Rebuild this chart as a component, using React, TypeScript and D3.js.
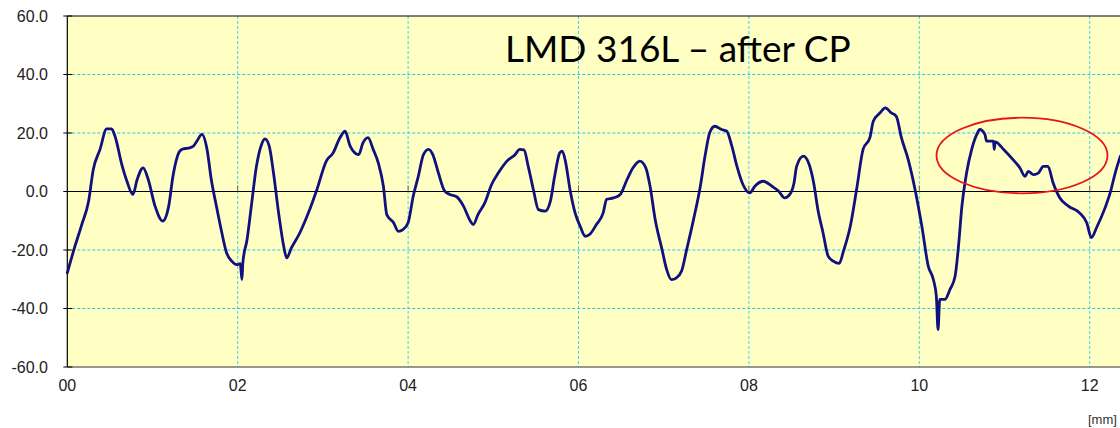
import React from "react";
import * as d3 from "d3";

// Surface profile, position along the trace in mm
const profileX = [
  0, 0.09, 0.17, 0.25, 0.305, 0.384, 0.462, 0.52, 0.56, 0.64, 0.7, 0.77, 0.82, 0.89, 0.95,
  1.03, 1.12, 1.19, 1.24, 1.32, 1.36, 1.42, 1.48, 1.52, 1.58, 1.64, 1.69, 1.75, 1.81, 1.87,
  1.93, 1.99, 2.03, 2.05, 2.06, 2.11, 2.16, 2.22, 2.28, 2.32, 2.37, 2.42, 2.48, 2.54, 2.575,
  2.63, 2.73, 2.83, 2.93, 3.04, 3.12, 3.2, 3.26, 3.32, 3.42, 3.47, 3.53, 3.59, 3.65, 3.71,
  3.75, 3.83, 3.885, 3.94, 4.0, 4.06, 4.12, 4.18, 4.24, 4.29, 4.355, 4.43, 4.49, 4.57, 4.65,
  4.73, 4.765, 4.82, 4.9, 4.98, 5.06, 5.16, 5.255, 5.31, 5.36, 5.41, 5.47, 5.53, 5.61, 5.67,
  5.72, 5.78, 5.81, 5.85, 5.9, 5.96, 6.02, 6.08, 6.13, 6.21, 6.29, 6.33, 6.41, 6.49, 6.57,
  6.64, 6.72, 6.79, 6.84, 6.9, 6.98, 7.035, 7.09, 7.15, 7.21, 7.27, 7.35, 7.43, 7.485, 7.54,
  7.6, 7.68, 7.74, 7.8, 7.86, 7.93, 8.01, 8.07, 8.17, 8.27, 8.35, 8.42, 8.48, 8.53, 8.56,
  8.64, 8.7, 8.76, 8.81, 8.87, 8.93, 8.99, 9.06, 9.11, 9.19, 9.27, 9.34, 9.42, 9.46, 9.54,
  9.6, 9.67, 9.73, 9.79, 9.87, 9.95, 10.03, 10.105, 10.165, 10.2, 10.22, 10.24, 10.3, 10.36,
  10.42, 10.46, 10.5, 10.555, 10.615, 10.675, 10.71, 10.77, 10.79, 10.87, 10.88, 10.89, 10.99,
  11.1, 11.18, 11.24, 11.28, 11.34, 11.4, 11.455, 11.51, 11.57, 11.65, 11.75, 11.88, 11.965,
  12.02, 12.08, 12.18, 12.24, 12.3, 12.36,
];

// Profile height at each position
const profileY = [
  -27.8, -18.7, -11.3, -3.3, 7.5, 14.4, 21.4, 21.4, 18.9, 9.2, 3.5, -1.0, 4.1, 8.1, 4.1,
  -5.0, -10.1, -5.0, 5.2, 13.8, 14.6, 14.8, 15.5, 17.2, 19.5, 14.4, 4.1, -5.0, -13.6, -21.0,
  -23.8, -25.0, -24.7, -30.1, -24.5, -16.4, -5.0, 8.6, 16.1, 18.0, 15.5, 6.4, -7.3, -18.7, -22.7,
  -19.3, -14.1, -7.3, 0.7, 10.4, 13.2, 18.4, 20.6, 15.5, 12.6, 16.6, 18.4, 14.4, 9.8, 1.8,
  -7.9, -10.7, -13.6, -13.0, -10.7, -1.6, 5.2, 12.6, 14.4, 12.6, 6.4, 0.1, -1.0, -1.8, -5.0,
  -10.1, -11.3, -7.9, -3.9, 2.4, 6.4, 10.4, 12.6, 14.4, 14.2, 8.6, 0.7, -6.2, -6.7, -3.3,
  5.2, 13.2, 13.8, 9.8, 0.7, -7.3, -11.9, -15.3, -14.7, -11.3, -7.3, -2.7, -2.2, -1.0, 4.1,
  8.1, 10.4, 8.1, 1.8, -9.6, -19.8, -26.7, -30.1, -29.5, -27.2, -19.8, -9.6, 1.8, 12.1, 20.1,
  22.3, 21.2, 20.6, 15.5, 8.6, 2.4, -0.5, 1.8, 3.5, 1.8, 0.1, -2.2, -1.0, 3.0, 8.6,
  12.1, 9.8, 3.0, -6.2, -14.1, -22.1, -23.8, -24.6, -20.4, -11.9, 1.8, 14.4, 18.4, 24.0, 26.9,
  28.6, 26.9, 25.7, 18.4, 10.9, 0.7, -11.9, -25.5, -30.1, -35.8, -47.2, -36.9, -36.9, -33.5,
  -29.0, -18.7, -5.0, 6.4, 14.4, 19.5, 21.2, 19.5, 17.2, 17.2, 14.4, 17.0, 14.4,
  10.9, 8.1, 5.2, 6.9, 5.8, 6.4, 8.6, 8.6, 3.0, -2.2, -5.0, -7.3, -10.7,
  -15.8, -12.4, -5.6, -0.5, 6.4, 12.1,
];

const yTicks = [60, 40, 20, 0, -20, -40, -60];
const xTicks = [0, 2, 4, 6, 8, 10, 12];
const xTickLabels = ["00", "02", "04", "06", "08", "10", "12"];
const title = "LMD 316L – after CP";
const unitLabel = "[mm]";

export default function App() {
  const width = 1120;
  const height = 428;
  const left = 67.3;
  const top = 16;
  const bottom = 367;
  const right = 1130;

  const x = d3.scaleLinear().domain([0, 1]).range([left, left + 85.2]);
  const y = d3.scaleLinear().domain([-60, 60]).range([bottom, top]);

  const pts: [number, number][] = profileX.map((v, i) => [v, profileY[i]]);
  const line = d3
    .line<[number, number]>()
    .x((d) => x(d[0]))
    .y((d) => y(d[1]))
    .curve(d3.curveMonotoneX);

  const font = "'Liberation Sans', Arial, sans-serif";

  return (
    <svg
      width={width}
      height={height}
      style={{ position: "absolute", left: 0, top: 0, background: "#ffffff" }}
    >
      <rect x={left} y={top} width={right - left} height={bottom - top} fill="#ffffc4" />

      {/* horizontal grid */}
      {yTicks
        .filter((t) => t !== 0 && Math.abs(t) !== 60)
        .map((t) => (
          <line
            key={`gy${t}`}
            x1={left}
            x2={right}
            y1={y(t)}
            y2={y(t)}
            stroke="#28c4ec"
            strokeWidth={1}
            strokeDasharray="3 2"
          />
        ))}
      {/* vertical grid */}
      {xTicks
        .filter((t) => t !== 0)
        .map((t) => (
          <line
            key={`gx${t}`}
            x1={x(t)}
            x2={x(t)}
            y1={top}
            y2={bottom}
            stroke="#3fd2ee"
            strokeWidth={1}
            strokeDasharray="3 2"
          />
        ))}

      {/* zero line with small ticks */}
      <line x1={left} x2={right} y1={y(0)} y2={y(0)} stroke="#000" strokeWidth={1} />
      {xTicks
        .filter((t) => t !== 0)
        .map((t) => (
          <line
            key={`zt${t}`}
            x1={x(t)}
            x2={x(t)}
            y1={y(0) - 6}
            y2={y(0)}
            stroke="#6b6b40"
            strokeWidth={1}
          />
        ))}

      {/* frame */}
      <line x1={left} x2={right} y1={top} y2={top} stroke="#000" strokeWidth={1} />
      <line x1={left} x2={right} y1={bottom} y2={bottom} stroke="#333" strokeWidth={1.2} />
      <line x1={left} x2={left} y1={top} y2={bottom} stroke="#000" strokeWidth={1.2} />

      {yTicks.map((t) => (
        <g key={`yt${t}`}>
          <line x1={left - 4} x2={left + 5} y1={y(t)} y2={y(t)} stroke="#000" strokeWidth={1} />
          <text
            x={48}
            y={y(t)}
            textAnchor="end"
            dominantBaseline="central"
            fontFamily={font}
            fontSize={16}
            fill="#222"
          >
            {t.toFixed(1)}
          </text>
        </g>
      ))}

      {xTicks.map((t, i) => (
        <text
          key={`xl${t}`}
          x={x(t)}
          y={385}
          textAnchor="middle"
          dominantBaseline="central"
          fontFamily={font}
          fontSize={16}
          fill="#222"
        >
          {xTickLabels[i]}
        </text>
      ))}

      <text x={1088} y={424} fontFamily={font} fontSize={13} fill="#333">
        {unitLabel}
      </text>

      <path
        d={line(pts) ?? ""}
        fill="none"
        stroke="#10107e"
        strokeWidth={2.8}
        strokeLinejoin="round"
        strokeLinecap="round"
      />

      <ellipse cx={1022} cy={155.5} rx={85.5} ry={37.8} fill="none" stroke="#e8141c" strokeWidth={1.8} />

      <text x={505} y={61.7} fontFamily="Lato, 'Open Sans', sans-serif" fontSize={37} fill="#000">
        {title}
      </text>
    </svg>
  );
}
